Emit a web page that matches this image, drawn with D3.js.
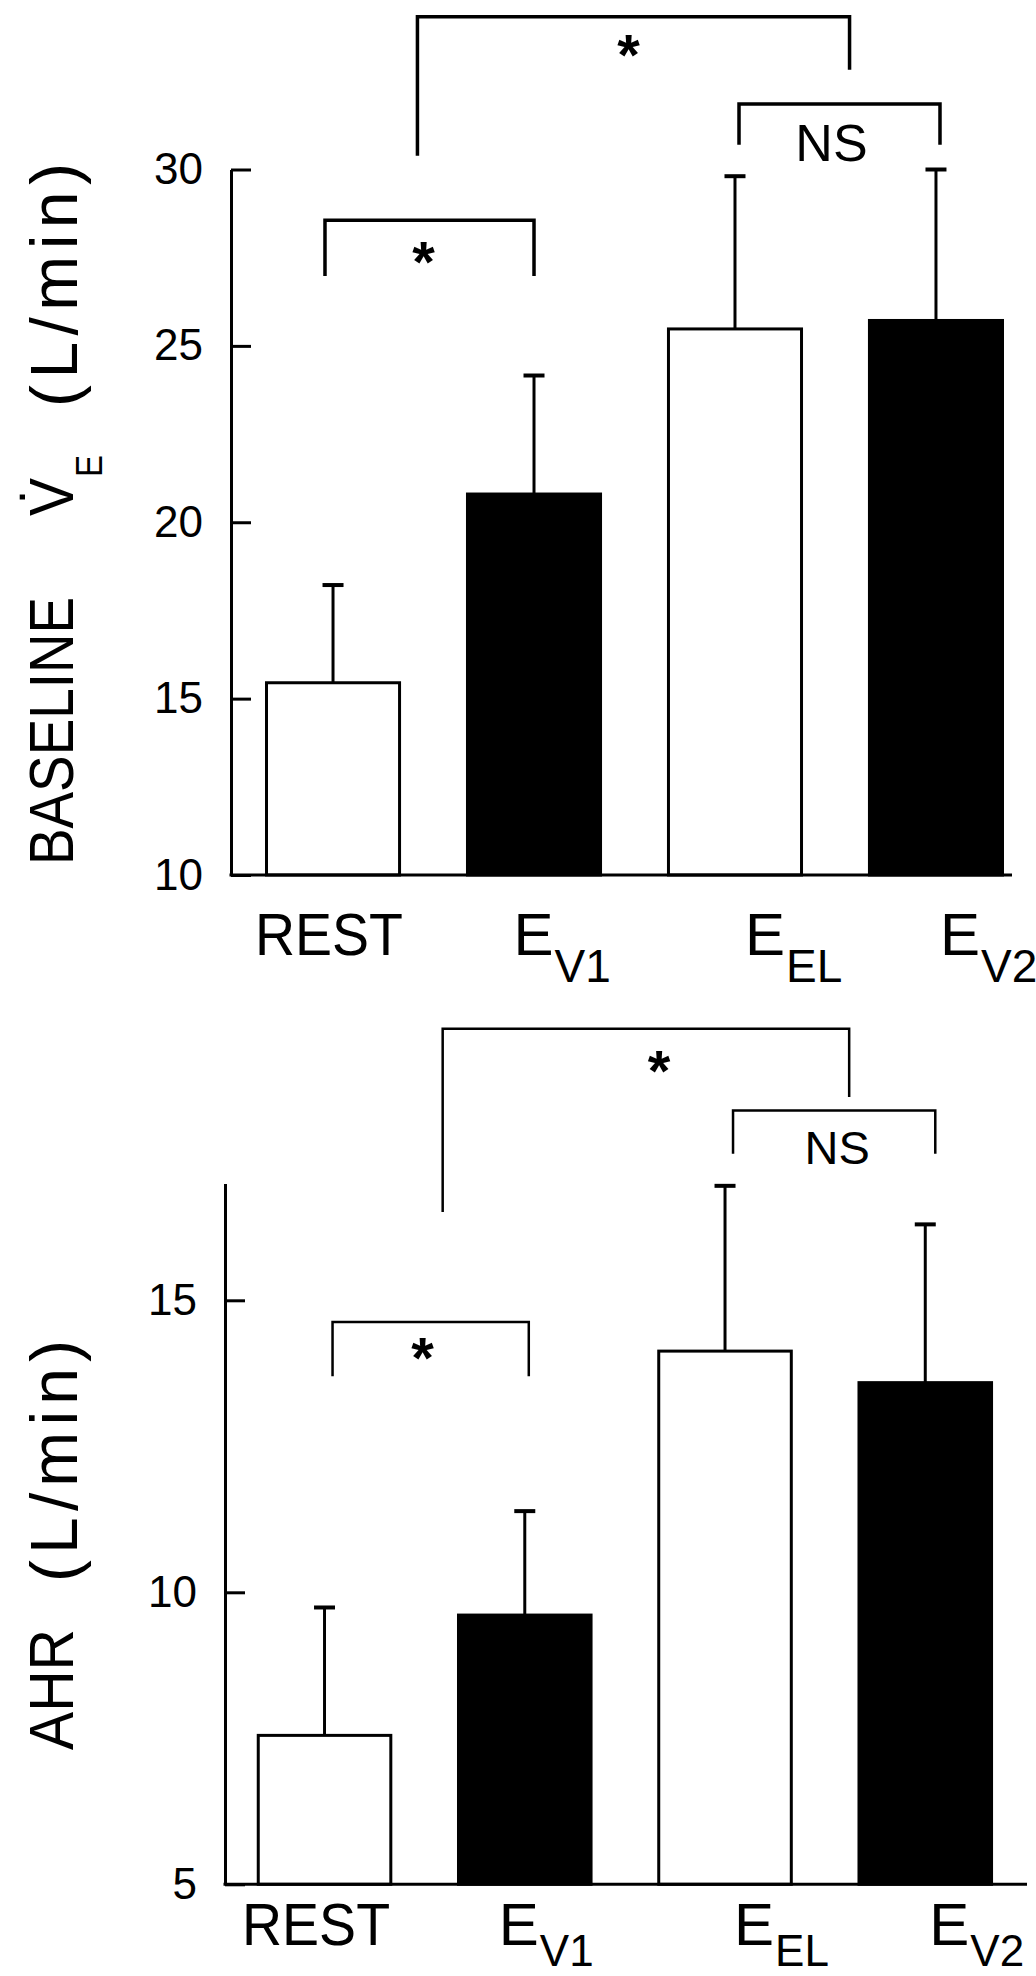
<!DOCTYPE html>
<html>
<head>
<meta charset="utf-8">
<script src="https://cdn.jsdelivr.net/npm/d3@7"></script>
<style>
  html, body { margin: 0; padding: 0; background: #fff; }
  svg { display: block; }
  text { font-family: "Liberation Sans", Arial, sans-serif; fill: #000; }
</style>
</head>
<body>
<svg id="chart" width="1036" height="1976"></svg>
<script>
// Conditions along the x axis
const categories = ["REST", "EV1", "EEL", "EV2"];
const labelMain = ["REST", "E", "E", "E"];
const labelSub = ["", "V1", "EL", "V2"];
const filled = [false, true, false, true];

// Baseline minute ventilation (L/min): mean and SD
const veMean = [15.45, 20.8, 25.48, 25.72];
const veSD = [2.77, 3.36, 4.33, 4.28];
const veTicks = [10, 15, 20, 25, 30];

// AHR (L/min): mean and SD
const ahrMean = [7.55, 9.61, 14.13, 13.59];
const ahrSD = [2.19, 1.78, 2.83, 2.71];
const ahrTicks = [5, 10, 15];

// Significance brackets: ends given as category positions (0 = first bar),
// heights in axis units
const veBrackets = [
  { from: -0.04, to: 1.0, top: 28.56, leftEnd: 26.98, rightEnd: 26.98, text: "*", at: 0.45, textY: 27.65 },
  { from: 0.42, to: 2.57, top: 34.33, leftEnd: 30.39, rightEnd: 32.83, text: "*", at: 1.47, textY: 33.53 },
  { from: 2.02, to: 3.02, top: 31.86, leftEnd: 30.70, rightEnd: 30.70, text: "NS", at: 2.48, textY: 30.24 }
];
const ahrBrackets = [
  { from: 0.04, to: 1.02, top: 14.63, leftEnd: 13.70, rightEnd: 13.70, text: "*", at: 0.49, textY: 14.18 },
  { from: 0.59, to: 2.62, top: 19.65, leftEnd: 16.51, rightEnd: 18.48, text: "*", at: 1.67, textY: 19.09 },
  { from: 2.04, to: 3.05, top: 18.25, leftEnd: 17.51, rightEnd: 17.51, text: "NS", at: 2.56, textY: 17.34 }
];

const svg = d3.select("#chart");
svg.append("rect").attr("width", 1036).attr("height", 1976).attr("fill", "#fff");

function drawPanel(cfg) {
  const g = svg.append("g");
  const x = d3.scaleBand().domain(categories).range(cfg.bandRange)
    .paddingInner(0.338).paddingOuter(0);
  const y = d3.scaleLinear().domain(cfg.yDomain).range(cfg.yRange);
  const bw = x.bandwidth();
  const step = x.step();
  const cx = i => x(categories[i]) + bw / 2;
  const px = p => cx(0) + p * step;
  const base = y(cfg.yDomain[0]);

  // bars
  g.selectAll("rect.bar").data(categories).join("rect")
    .attr("class", "bar")
    .attr("x", c => x(c))
    .attr("y", (c, i) => y(cfg.mean[i]))
    .attr("width", bw)
    .attr("height", (c, i) => base - y(cfg.mean[i]))
    .attr("fill", (c, i) => filled[i] ? "#000" : "#fff")
    .attr("stroke", "#000")
    .attr("stroke-width", 3);

  // upper error bars
  const err = g.selectAll("g.err").data(categories).join("g").attr("class", "err");
  err.append("line")
    .attr("x1", (c, i) => cx(i)).attr("x2", (c, i) => cx(i))
    .attr("y1", (c, i) => y(cfg.mean[i]))
    .attr("y2", (c, i) => y(cfg.mean[i] + cfg.sd[i]))
    .attr("stroke", "#000").attr("stroke-width", 3);
  err.append("line")
    .attr("x1", (c, i) => cx(i) - 10.5).attr("x2", (c, i) => cx(i) + 10.5)
    .attr("y1", (c, i) => y(cfg.mean[i] + cfg.sd[i]))
    .attr("y2", (c, i) => y(cfg.mean[i] + cfg.sd[i]))
    .attr("stroke", "#000").attr("stroke-width", 4);

  // y axis with inward ticks
  const ax = g.append("g")
    .attr("transform", `translate(${cfg.axisX},0)`)
    .call(d3.axisLeft(y).tickValues(cfg.ticks).tickSizeInner(-20).tickSizeOuter(0).tickPadding(28));
  ax.select(".domain").attr("stroke", "#000").attr("stroke-width", 3);
  ax.selectAll(".tick line").attr("stroke", "#000").attr("stroke-width", 3);
  ax.selectAll(".tick text")
    .attr("font-family", '"Liberation Sans", Arial, sans-serif')
    .attr("font-size", 44).attr("fill", "#000");

  // x baseline
  g.append("line")
    .attr("x1", cfg.axisX - 1.5).attr("x2", cfg.baseEnd)
    .attr("y1", base).attr("y2", base)
    .attr("stroke", "#000").attr("stroke-width", 3);

  // category labels
  categories.forEach((c, i) => {
    const t = g.append("text")
      .attr("y", cfg.labelBaseline)
      .attr("font-size", 60);
    if (labelSub[i]) {
      t.attr("x", cx(i) + cfg.labelNudge[i]).attr("text-anchor", "start");
      t.append("tspan").text(labelMain[i]);
      t.append("tspan").attr("dy", cfg.subDrop).attr("dx", 1)
        .attr("font-size", cfg.subSize).text(labelSub[i]);
    } else {
      t.attr("x", cx(i) + cfg.labelNudge[i]).attr("text-anchor", "middle")
        .attr("textLength", 148).attr("lengthAdjust", "spacingAndGlyphs")
        .text(labelMain[i]);
    }
  });

  // significance brackets
  cfg.brackets.forEach(b => {
    g.append("path")
      .attr("d", `M${px(b.from)},${y(b.leftEnd)}V${y(b.top)}H${px(b.to)}V${y(b.rightEnd)}`)
      .attr("fill", "none").attr("stroke", "#000")
      .attr("stroke-width", cfg.bracketWidth);
    if (b.text === "*") {
      g.append("text")
        .attr("x", px(b.at)).attr("y", y(b.textY) + 30)
        .attr("text-anchor", "middle")
        .attr("font-family", '"DejaVu Sans", sans-serif')
        .attr("font-weight", "bold")
        .attr("font-size", 58)
        .text(b.text);
    } else {
      g.append("text")
        .attr("x", px(b.at)).attr("y", y(b.textY))
        .attr("text-anchor", "middle")
        .attr("font-size", cfg.nsSize)
        .text(b.text);
    }
  });
  return g;
}

drawPanel({
  mean: veMean, sd: veSD, ticks: veTicks,
  yDomain: [10, 30], yRange: [875, 169.5],
  bandRange: [266.5, 1002.5], axisX: 231, baseEnd: 1012,
  labelBaseline: 955, labelNudge: [-4, -20.5, 10, 4], subDrop: 27, subSize: 46,
  brackets: veBrackets, bracketWidth: 3.5, nsSize: 52
});

drawPanel({
  mean: ahrMean, sd: ahrSD, ticks: ahrTicks,
  yDomain: [5, 17], yRange: [1884.3, 1183.5],
  bandRange: [258.25, 991.55], axisX: 225, baseEnd: 1027,
  labelBaseline: 1945, labelNudge: [-8.5, -26, 9, 4], subDrop: 21, subSize: 44,
  brackets: ahrBrackets, bracketWidth: 2.5, nsSize: 47
});

// rotated y-axis titles; text runs upward from (bx, sy)
function vText(str, bx, sy, size, anchor, len, adjust) {
  const t = svg.append("text")
    .attr("transform", `translate(${bx},${sy}) rotate(-90)`)
    .attr("text-anchor", anchor)
    .attr("font-size", size)
    .text(str);
  if (len) t.attr("textLength", len).attr("lengthAdjust", adjust || "spacingAndGlyphs");
  return t;
}
vText("BASELINE", 73, 865, 63, "start", 268);
vText("V\u0307", 73, 516, 63, "start", 38);
vText("E", 102, 477, 37, "start", 22);
vText("(L/min)", 77, 163, 66, "end", 244, "spacing");

vText("AHR", 73, 1750, 63, "start", 121);
vText("(L/min)", 77, 1340, 66, "end", 242, "spacing");
</script>
</body>
</html>
